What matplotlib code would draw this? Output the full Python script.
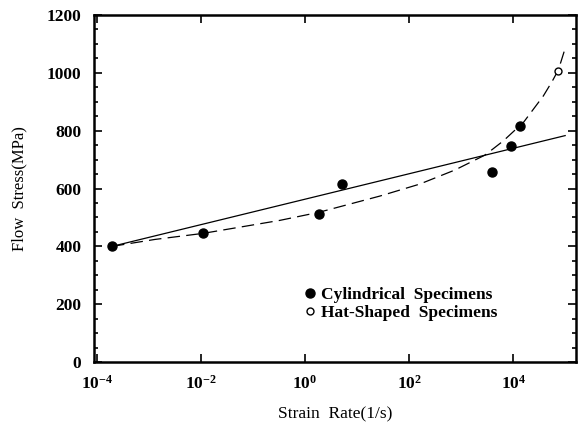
import matplotlib.pyplot as plt
import numpy as np

# measured points
cyl_rate = [1.95e-4, 1.1e-2, 1.86, 5.1, 4.0e3, 9.1e3, 1.35e4]
cyl_stress = [400, 447, 511, 616, 657, 748, 817]
hat_rate = [7.4e4]
hat_stress = [1005]

# solid fit line
fit_rate = [1.95e-4, 1.0e5]
fit_stress = [400, 783]

# dashed fit curve
dash_rate = [1.95e-4, 1.3e-3, 1.1e-2, 0.33, 1.86, 27.5, 158, 759, 2.9e3,
             6.5e3, 1.6e4, 3.8e4, 5.6e4, 7.4e4, 1.0e5]
dash_stress = [400, 424, 445, 490, 518, 574, 615, 664, 716,
               765, 830, 920, 970, 1010, 1085]

plt.rcParams['font.family'] = ['Liberation Serif', 'DejaVu Serif']
plt.rcParams['mathtext.fontset'] = 'custom'
plt.rcParams['mathtext.rm'] = 'Liberation Serif:bold'
plt.rcParams['mathtext.it'] = 'Liberation Serif:bold'
plt.rcParams['mathtext.bf'] = 'Liberation Serif:bold'

fig = plt.figure(figsize=(5.79, 4.28), dpi=100)
ax = fig.add_axes([0.162, 0.154, 0.833, 0.811])

ax.plot(fit_rate, fit_stress, color='black', lw=0.9)
ax.plot(dash_rate, dash_stress, color='black', lw=0.9, ls=(0, (10, 5)))
ax.plot(cyl_rate, cyl_stress, 'o', color='black', ms=6.5, label='Cylindrical  Specimens')
ax.plot(hat_rate, hat_stress, 'o', mfc='white', mec='black', ms=5, mew=1, label='Hat-Shaped  Specimens')

ax.set_xscale('log')
ax.set_xlim(10**-4.06, 10**5.21)
ax.set_ylim(0, 1200)
ax.set_xticks([1e-4, 1e-2, 1e0, 1e2, 1e4])
ax.set_yticks(np.arange(0, 1201, 200))
ax.set_yticks(np.arange(0, 1201, 50), minor=True)
ax.tick_params(which='both', direction='in', top=True, right=True, width=1.2)
ax.tick_params(which='major', length=6, labelsize=12.5, pad=9)
ax.tick_params(which='minor', length=3)
for lab in ax.get_xticklabels() + ax.get_yticklabels():
    lab.set_fontweight('bold')
for s in ax.spines.values():
    s.set_linewidth(1.8)

ax.set_xlabel('Strain  Rate(1/s)', fontsize=12.5, labelpad=10)
ax.set_ylabel('Flow  Stress(MPa)', fontsize=12, labelpad=14)

ax.legend(loc='upper left', bbox_to_anchor=(0.413, 0.242), frameon=False,
          prop={'size': 12.5, 'weight': 'bold'},
          handletextpad=0.1, handlelength=1.0, labelspacing=0.1, borderpad=0)

fig.savefig('out.png', dpi=100)
